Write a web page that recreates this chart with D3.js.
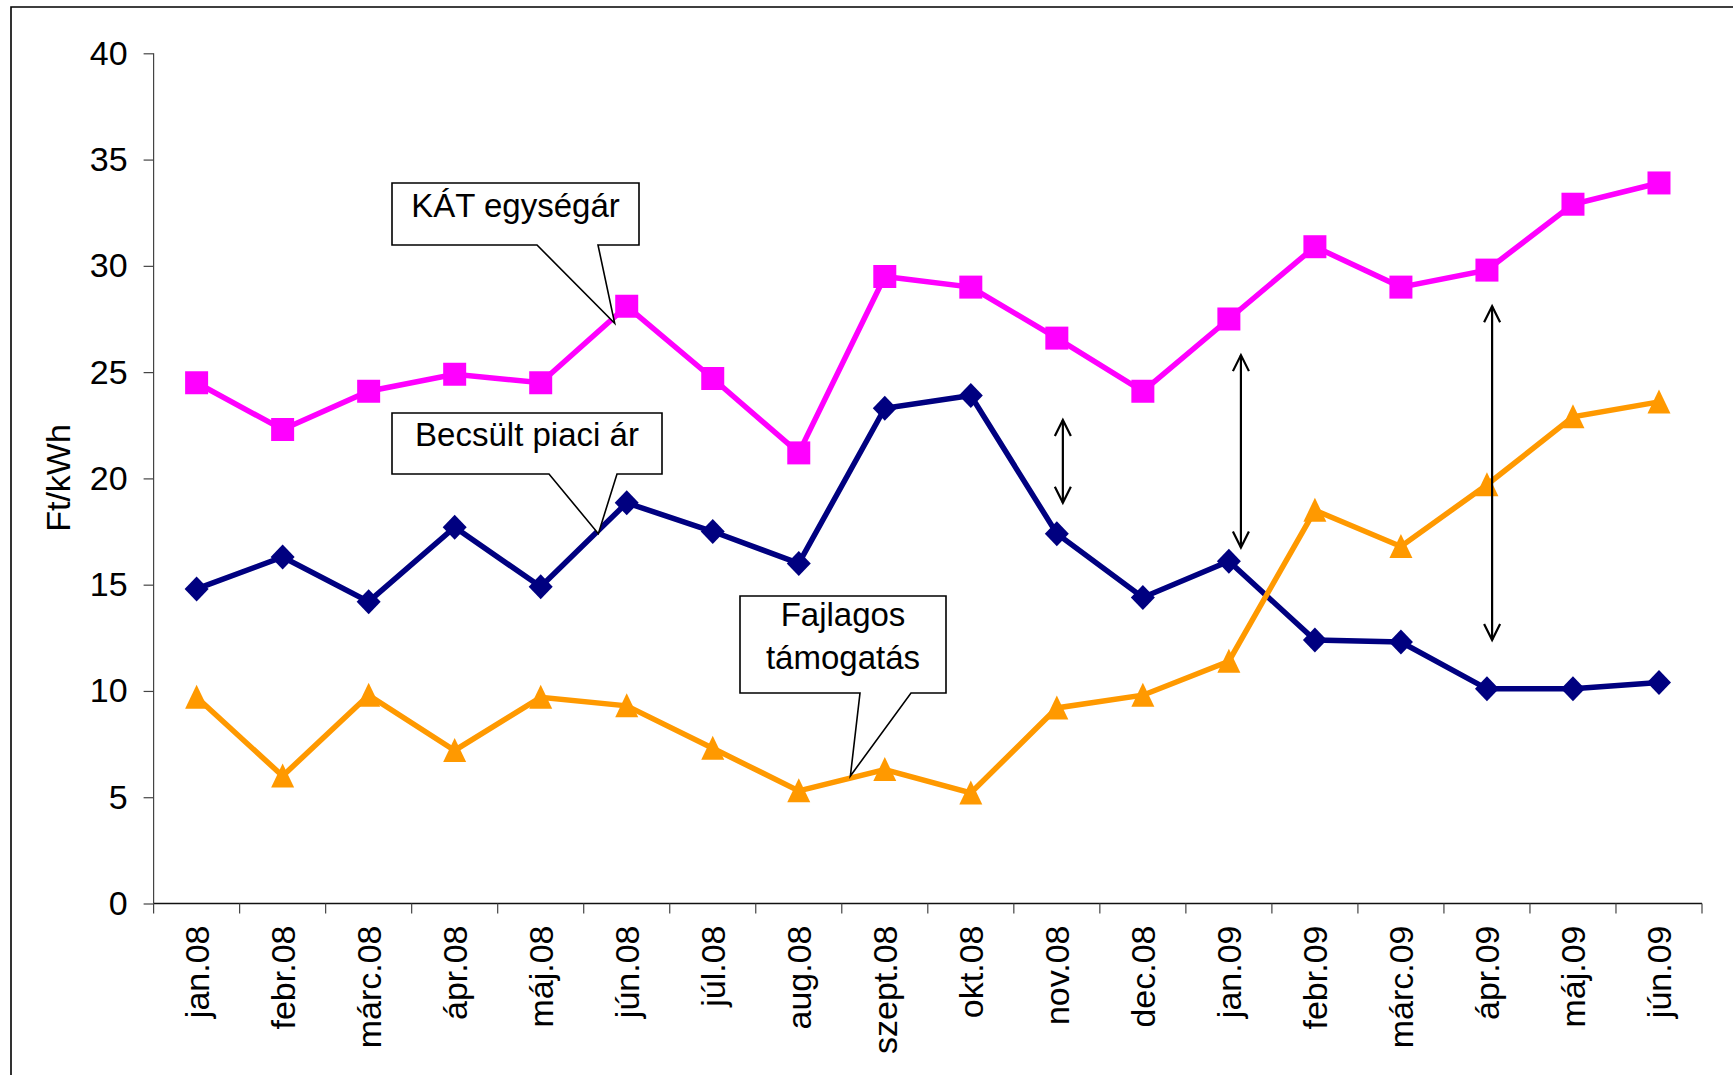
<!DOCTYPE html>
<html>
<head>
<meta charset="utf-8">
<script src="https://cdn.jsdelivr.net/npm/d3@7"></script>
<style>
  html, body { margin: 0; padding: 0; background: #fff; }
  svg { display: block; font-family: "Liberation Sans", Arial, sans-serif; }
</style>
</head>
<body>
<svg id="chart" width="1733" height="1075"></svg>
<script>
// ---------- data ----------
const categories = ["jan.08","febr.08","márc.08","ápr.08","máj.08","jún.08","júl.08","aug.08","szept.08","okt.08","nov.08","dec.08","jan.09","febr.09","márc.09","ápr.09","máj.09","jún.09"];
const katValues = [24.5,22.3,24.1,24.9,24.5,28.1,24.7,21.2,29.5,29.0,26.6,24.1,27.5,30.9,29.0,29.8,32.9,33.9];
const piaciValues = [14.8,16.3,14.2,17.7,14.9,18.85,17.5,16.0,23.3,23.9,17.4,14.4,16.1,12.4,12.3,10.1,10.1,10.4];
const tamogatasValues = [9.7,6.0,9.8,7.2,9.7,9.3,7.3,5.3,6.3,5.2,9.2,9.8,11.4,18.5,16.8,19.7,22.9,23.6];
const yTicks = [0,5,10,15,20,25,30,35,40];
const yLabel = "Ft/kWh";
const seriesNames = ["KÁT egységár","Becsült piaci ár","Fajlagos támogatás"];

// callout labels: text lines, tip in data terms (category position, value)
const calloutTexts = [["KÁT egységár"],["Becsült piaci ár"],["Fajlagos","támogatás"]];
const calloutTipPos = [4.86, 4.67, 7.6];
const calloutTipVal = [27.3, 17.4, 6.0];
// double arrows: category position, from value, to value
const arrowPos = [10.07, 12.14, 15.06];
const arrowFrom = [18.85, 16.75, 12.4];
const arrowTo = [22.75, 25.8, 28.1];

// ---------- layout ----------
const svg = d3.select("#chart");
const W = 1733, H = 1075;
const plot = {left: 153.6, right: 1702, top: 53.3, bottom: 903.5};
const FONT = "'Liberation Sans', Arial, sans-serif";

const x = d3.scaleBand().domain(categories).range([plot.left, plot.right]).padding(0);
const xPos = d3.scaleLinear().domain([-0.5, categories.length - 0.5]).range(x.range());
const y = d3.scaleLinear().domain([0, 40]).range([plot.bottom, plot.top]);
const cx = c => x(c) + x.bandwidth() / 2;

// outer frame (top and left edges visible)
svg.append("path")
  .attr("d", `M11,${H + 5} V7 H${W + 5}`)
  .attr("fill", "none").attr("stroke", "#000").attr("stroke-width", 1.6);

// y axis
const yAxis = svg.append("g")
  .attr("transform", `translate(${plot.left},0)`)
  .call(d3.axisLeft(y).tickValues(yTicks).tickSize(10).tickPadding(16).tickFormat(d3.format("d")));
yAxis.select(".domain").attr("stroke", "#444").attr("stroke-width", 1.2).attr("d", `M0,${plot.top}V${plot.bottom}`);
yAxis.selectAll(".tick line").attr("stroke", "#444").attr("stroke-width", 1.2);
yAxis.selectAll(".tick text").attr("font-size", 34).attr("fill", "#000")
  .attr("font-family", FONT);

// x axis
const xAxis = svg.append("g")
  .attr("transform", `translate(0,${plot.bottom})`)
  .call(d3.axisBottom(x).tickSize(0).tickPadding(0));
xAxis.select(".domain").attr("stroke", "#111").attr("stroke-width", 1.6).attr("d", `M${plot.left},0H${plot.right}`);
xAxis.selectAll(".tick text")
  .attr("font-size", 34).attr("fill", "#000")
  .attr("font-family", FONT)
  .attr("text-anchor", "end")
  .attr("transform", "translate(0,22) rotate(-90)")
  .attr("x", 0).attr("y", 0).attr("dy", "0.36em");
// boundary ticks (between categories)
const boundaries = categories.map(c => x(c)).concat([plot.right]);
xAxis.selectAll(".btick").data(boundaries).enter().append("line")
  .attr("class", "btick")
  .attr("x1", d => d).attr("x2", d => d).attr("y1", 0).attr("y2", 10)
  .attr("stroke", "#444").attr("stroke-width", 1.2);

// y label
svg.append("text")
  .attr("transform", `translate(58,478) rotate(-90)`)
  .attr("text-anchor", "middle").attr("dy", "0.36em")
  .attr("font-size", 34).text(yLabel);

// ---------- series ----------
const series = [
  {name: seriesNames[0], values: katValues, color: "#FF00FF", shape: "square"},
  {name: seriesNames[1], values: piaciValues, color: "#000080", shape: "diamond"},
  {name: seriesNames[2], values: tamogatasValues, color: "#FF9900", shape: "triangle"}
];
const shapes = {
  square: "M-11.5,-11.5H11.5V11.5H-11.5Z",
  diamond: "M0,-12.5L12,0L0,12.5L-12,0Z",
  triangle: "M0,-12.5L11.5,11.5L-11.5,11.5Z"
};
const line = d3.line().x(d => cx(d.c)).y(d => y(d.v));

series.forEach(s => {
  const pts = categories.map((c, i) => ({c, v: s.values[i]}));
  const g = svg.append("g");
  g.append("path").datum(pts).attr("d", line)
    .attr("fill", "none").attr("stroke", s.color).attr("stroke-width", 5.5)
    .attr("stroke-linejoin", "miter");
  g.selectAll("path.m").data(pts).enter().append("path")
    .attr("class", "m")
    .attr("transform", d => `translate(${cx(d.c)},${y(d.v)})`)
    .attr("d", shapes[s.shape]).attr("fill", s.color);
});

// ---------- double arrows ----------
arrowPos.forEach((p, i) => {
  const ax = xPos(p), y1 = y(arrowFrom[i]), y2 = y(arrowTo[i]);
  const g = svg.append("g").attr("stroke", "#000").attr("stroke-width", 2.2).attr("fill", "none");
  g.append("line").attr("x1", ax).attr("x2", ax).attr("y1", y1).attr("y2", y2);
  g.append("path").attr("d", `M${ax - 8},${y2 + 16}L${ax},${y2}L${ax + 8},${y2 + 16}`);
  g.append("path").attr("d", `M${ax - 8},${y1 - 16}L${ax},${y1}L${ax + 8},${y1 - 16}`);
});

// ---------- callouts ----------
const calloutBoxes = [
  {x0: 392, y0: 183, x1: 639, y1: 245, b0: 537, b1: 598},
  {x0: 392, y0: 413, x1: 662, y1: 474, b0: 549, b1: 617},
  {x0: 740, y0: 596, x1: 946, y1: 693, b0: 860, b1: 911}
];
calloutBoxes.forEach((b, i) => {
  const tx = xPos(calloutTipPos[i]), ty = y(calloutTipVal[i]);
  svg.append("path")
    .attr("d", `M${b.x0},${b.y0}H${b.x1}V${b.y1}H${b.b1}L${tx},${ty}L${b.b0},${b.y1}H${b.x0}Z`)
    .attr("fill", "#fff").attr("stroke", "#000").attr("stroke-width", 1.6);
  const lines = calloutTexts[i];
  const midY = (b.y0 + b.y1) / 2 - 7;
  const lh = 43;
  lines.forEach((t, j) => {
    svg.append("text")
      .attr("x", (b.x0 + b.x1) / 2)
      .attr("y", midY + (j - (lines.length - 1) / 2) * lh)
      .attr("dy", "0.3em")
      .attr("text-anchor", "middle").attr("font-size", 33).text(t);
  });
});
</script>
</body>
</html>
